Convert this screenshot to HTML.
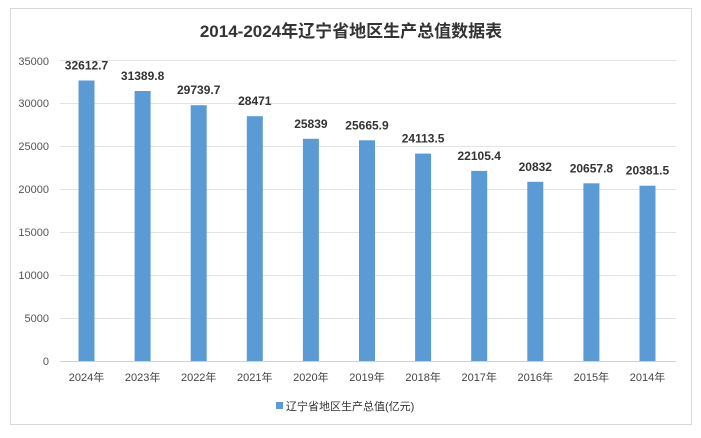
<!DOCTYPE html>
<html><head><meta charset="utf-8"><style>
html,body{margin:0;padding:0;background:#fff;}
svg text{font-family:"Liberation Sans","Noto Sans CJK SC",sans-serif;}
</style></head><body>
<svg width="701" height="433" xmlns="http://www.w3.org/2000/svg">
<rect x="10.5" y="8.5" width="681" height="416" fill="#fff" stroke="#d9d9d9"/>
<text x="351" y="37" text-anchor="middle" font-size="17" font-weight="bold" fill="#333">2014-2024年辽宁省地区生产总值数据表</text>
<g font-size="11" fill="#555" text-anchor="end">
<text x="49" y="65">35000</text><text x="49" y="107">30000</text><text x="49" y="150">25000</text>
<text x="49" y="193">20000</text><text x="49" y="236">15000</text><text x="49" y="279">10000</text>
<text x="49" y="322">5000</text><text x="49" y="365">0</text>
</g>
<g stroke="#e3e3e3">
<line x1="60" y1="60.5" x2="676" y2="60.5"/>
<line x1="60" y1="103.5" x2="676" y2="103.5"/>
<line x1="60" y1="146.5" x2="676" y2="146.5"/>
<line x1="60" y1="189.5" x2="676" y2="189.5"/>
<line x1="60" y1="232.5" x2="676" y2="232.5"/>
<line x1="60" y1="275.5" x2="676" y2="275.5"/>
<line x1="60" y1="318.5" x2="676" y2="318.5"/>
</g>
<line x1="60" y1="361.5" x2="676" y2="361.5" stroke="#d0d0d0"/>
<g fill="#5b9bd5">
<rect x="78.5" y="80.5" width="16" height="280.5"/>
<rect x="134.6" y="91" width="16" height="270"/>
<rect x="190.7" y="105.2" width="16" height="255.8"/>
<rect x="246.8" y="116.2" width="16" height="244.8"/>
<rect x="302.9" y="138.8" width="16" height="222.2"/>
<rect x="359" y="140.3" width="16" height="220.7"/>
<rect x="415.1" y="153.6" width="16" height="207.4"/>
<rect x="471.2" y="170.9" width="16" height="190.1"/>
<rect x="527.3" y="181.8" width="16" height="179.2"/>
<rect x="583.4" y="183.3" width="16" height="177.7"/>
<rect x="639.5" y="185.7" width="16" height="175.3"/>
</g>
<g font-size="12" font-weight="bold" fill="#333" text-anchor="middle">
<text x="86.5" y="69.5">32612.7</text>
<text x="142.6" y="80">31389.8</text>
<text x="198.7" y="94.2">29739.7</text>
<text x="254.8" y="105.2">28471</text>
<text x="310.9" y="127.8">25839</text>
<text x="367" y="129.3">25665.9</text>
<text x="423.1" y="142.6">24113.5</text>
<text x="479.2" y="159.9">22105.4</text>
<text x="535.3" y="170.8">20832</text>
<text x="591.4" y="172.3">20657.8</text>
<text x="647.5" y="174.7">20381.5</text>
</g>
<g font-size="11" fill="#444" text-anchor="middle">
<text x="86.5" y="381">2024年</text>
<text x="142.6" y="381">2023年</text>
<text x="198.7" y="381">2022年</text>
<text x="254.8" y="381">2021年</text>
<text x="310.9" y="381">2020年</text>
<text x="367" y="381">2019年</text>
<text x="423.1" y="381">2018年</text>
<text x="479.2" y="381">2017年</text>
<text x="535.3" y="381">2016年</text>
<text x="591.4" y="381">2015年</text>
<text x="647.5" y="381">2014年</text>
</g>
<rect x="276" y="402" width="7" height="7" fill="#5b9bd5"/>
<text x="286" y="410" font-size="11" fill="#333">辽宁省地区生产总值(亿元)</text>
</svg>
</body></html>
